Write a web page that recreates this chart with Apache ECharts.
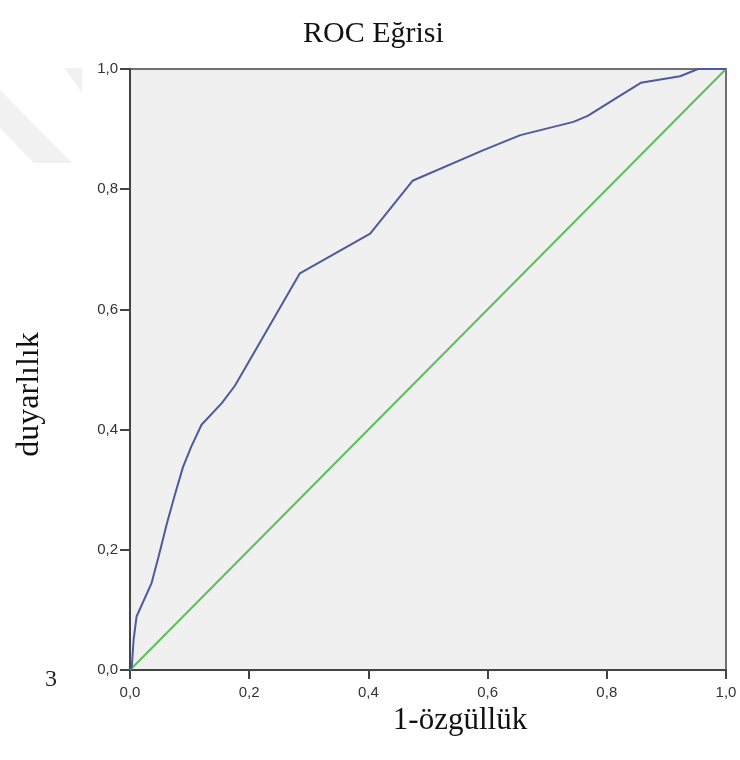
<!DOCTYPE html>
<html>
<head>
<meta charset="utf-8">
<script src="https://cdn.jsdelivr.net/npm/echarts@6/dist/echarts.min.js"></script>
<style>
  html, body { margin: 0; padding: 0; background: #fff; }
  #main { width: 740px; height: 760px; }
</style>
</head>
<body>
<div id="main"></div>
<script>
// ROC curve (1 - specificity, sensitivity)
var fpr = [0, 0.003, 0.006, 0.011, 0.036, 0.048, 0.062, 0.076, 0.089, 0.103, 0.120, 0.154, 0.176, 0.201, 0.285, 0.403, 0.474, 0.593, 0.655, 0.744, 0.768, 0.813, 0.857, 0.923, 0.953, 1.0];
var tpr = [0, 0.005, 0.050, 0.089, 0.144, 0.189, 0.244, 0.294, 0.338, 0.372, 0.408, 0.444, 0.473, 0.516, 0.660, 0.726, 0.814, 0.865, 0.890, 0.912, 0.922, 0.950, 0.977, 0.988, 1.0, 1.0];
// reference (chance) line
var refX = [0, 1];
var refY = [0, 1];

var curve = fpr.map(function (x, i) { return [x, tpr[i]]; });
var diag = refX.map(function (x, i) { return [x, refY[i]]; });

var myChart = echarts.init(document.getElementById('main'));
var serif = '"Liberation Serif", "Times New Roman", serif';
var sans = '"Liberation Sans", Arial, sans-serif';

function comma(v) { return v.toFixed(1).replace('.', ','); }

var option = {
  backgroundColor: '#ffffff',
  animation: false,
  title: {
    text: 'ROC Eğrisi',
    left: 298,
    top: 14,
    textStyle: { fontFamily: serif, fontSize: 30, fontWeight: 'normal', color: '#111' }
  },
  grid: {
    left: 130, top: 69, width: 596, height: 601,
    show: true,
    backgroundColor: '#f0f0f0',
    borderColor: '#707070',
    borderWidth: 2
  },
  xAxis: {
    type: 'value', min: 0, max: 1, interval: 0.2,
    name: '1-özgüllük',
    nameLocation: 'middle',
    nameGap: 32,
    nameTextStyle: { fontFamily: serif, fontSize: 31, color: '#111', padding: [0, 0, 0, 64] },
    axisLine: { lineStyle: { color: '#444', width: 2 } },
    axisTick: { show: true, length: 9, lineStyle: { color: '#444', width: 2 } },
    axisLabel: { margin: 15, fontFamily: sans, fontSize: 15, color: '#333', formatter: comma },
    splitLine: { show: false }
  },
  yAxis: {
    type: 'value', min: 0, max: 1, interval: 0.2,
    name: 'duyarlılık',
    nameLocation: 'middle',
    nameGap: 84,
    nameRotate: 90,
    nameTextStyle: { fontFamily: serif, fontSize: 32, color: '#111', padding: [0, 50, 0, 0] },
    axisLine: { lineStyle: { color: '#444', width: 2 } },
    axisTick: { show: true, length: 10, lineStyle: { color: '#444', width: 2 } },
    axisLabel: { margin: 12, fontFamily: sans, fontSize: 15, color: '#333', formatter: comma },
    splitLine: { show: false }
  },
  series: [
    {
      name: 'Referans',
      type: 'line',
      data: diag,
      showSymbol: false,
      lineStyle: { color: '#5cbf5c', width: 2 },
      z: 2
    },
    {
      name: 'ROC',
      type: 'line',
      data: curve,
      showSymbol: false,
      lineStyle: { color: '#4d5a9e', width: 2 },
      z: 3
    }
  ],
  graphic: [
    // faint watermark shapes at top left
    { type: 'polygon', z: -1, shape: { points: [[0, 90], [72, 163], [34, 163], [0, 128]] }, style: { fill: '#f1f1f1' } },
    { type: 'polygon', z: -1, shape: { points: [[64, 68], [82, 68], [82, 93]] }, style: { fill: '#f1f1f1' } },
    // stray page number, cut at the bottom
    { type: 'text', left: 45, top: 668, z: 1, style: { text: '3', font: '24px "Liberation Serif"', fill: '#222' } },
    { type: 'rect', left: 38, top: 690, z: 2, shape: { width: 30, height: 20 }, style: { fill: '#ffffff' } }
  ]
};
myChart.setOption(option);
</script>
</body>
</html>
